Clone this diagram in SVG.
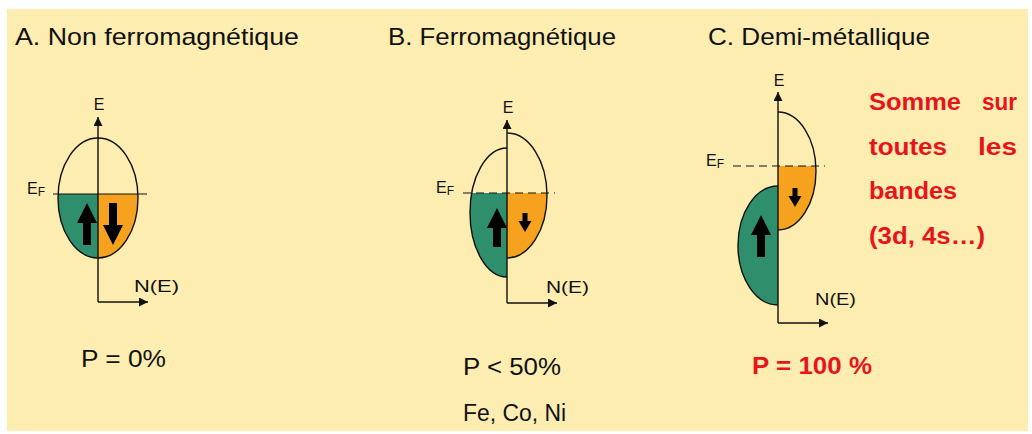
<svg xmlns="http://www.w3.org/2000/svg" width="1032" height="434" viewBox="0 0 1032 434">
<defs>
<style>
.t{font-family:"Liberation Sans",Arial,sans-serif;fill:#111}
.title{font-size:24px}
.ax{stroke:#111;stroke-width:1.4;fill:none}
.ol{stroke:#111;stroke-width:1.4;fill:none}
.ef{stroke:#111;stroke-width:1.2}
.dash{stroke-dasharray:8 5}
.up{fill:#2F8F6C}
.dn{fill:#F7A21E}
.red{font-family:"Liberation Sans",Arial,sans-serif;font-weight:bold;fill:#E8141C;font-size:23px}
.lab{font-size:16px}
.sub{font-size:12px}
.arr{fill:#000}
</style>
<marker id="ah" viewBox="0 0 10 10" refX="10" refY="5" markerWidth="9" markerHeight="9" markerUnits="userSpaceOnUse" orient="auto">
<path d="M0,0 L10,5 L0,10 z" fill="#111"/>
</marker>
</defs>
<rect x="0" y="0" width="1032" height="434" fill="#fff"/>
<rect x="7" y="9" width="1021" height="422" fill="#FDEDB1"/>

<g id="titles">
<text class="t title" x="15" y="45" textLength="284" lengthAdjust="spacingAndGlyphs">A. Non ferromagnétique</text>
<text class="t title" x="388" y="45" textLength="228" lengthAdjust="spacingAndGlyphs">B. Ferromagnétique</text>
<text class="t title" x="708" y="45" textLength="222" lengthAdjust="spacingAndGlyphs">C. Demi-métallique</text>
</g>

<g id="diagramA">
<path class="up" d="M98,194 L58.1,194 A40,60 0 0 0 98,258 Z"/>
<path class="dn" d="M98,194 L137.9,194 A40,60 0 0 1 98,258 Z"/>
<ellipse class="ol" cx="98" cy="198" rx="40" ry="60"/>
<line class="ef" x1="53" y1="194" x2="147" y2="194"/>
<polygon class="arr" points="87,203 97,223 91,223 91,245 83,245 83,223 77,223"/>
<polygon class="arr" points="113,245 123,225 117,225 117,203 109,203 109,225 103,225"/>
<text class="t lab" x="27" y="194">E<tspan class="sub" dy="2">F</tspan></text>
<text class="t lab" x="99" y="110" text-anchor="middle">E</text>
<text class="t lab" x="134" y="292" textLength="45" lengthAdjust="spacingAndGlyphs">N(E)</text>
<text class="t" x="81" y="367" font-size="24" textLength="85" lengthAdjust="spacingAndGlyphs">P = 0%</text>
</g>

<g id="diagramB">
<path class="up" d="M507,193 L471.7,193 A37,64.5 0 0 0 507,277 Z"/>
<path class="dn" d="M507,193 L547,193 A40,62.5 0 0 1 507,258 Z"/>
<path class="ol" d="M507,148 A37,64.5 0 0 0 507,277"/>
<path class="ol" d="M507,133 A40,62.5 0 0 1 507,258"/>
<line class="ef dash" x1="463" y1="193" x2="555" y2="193"/>
<polygon class="arr" points="497,208 507,228 501,228 501,247 493,247 493,228 487,228"/>
<polygon class="arr" points="525,232 531.5,221 527.5,221 527.5,213 522.5,213 522.5,221 518.5,221"/>
<text class="t lab" x="436" y="193">E<tspan class="sub" dy="2">F</tspan></text>
<text class="t lab" x="508" y="113" text-anchor="middle">E</text>
<text class="t lab" x="546" y="293" textLength="43" lengthAdjust="spacingAndGlyphs">N(E)</text>
<text class="t" x="463" y="375" font-size="24" textLength="98" lengthAdjust="spacingAndGlyphs">P &lt; 50%</text>
<text class="t" x="463" y="421" font-size="23" textLength="103" lengthAdjust="spacingAndGlyphs">Fe, Co, Ni</text>
</g>

<g id="diagramC">
<path class="dn" d="M778,166 L815.9,166 A38,59 0 0 1 778,230 Z"/>
<path class="up" d="M778,186 A40,59.5 0 0 0 778,305 Z"/>
<path class="ol" d="M778,112 A38,59 0 0 1 778,230"/>
<path class="ol" d="M778,186 A40,59.5 0 0 0 778,305"/>
<line class="ef dash" x1="733" y1="166" x2="825" y2="166"/>
<polygon class="arr" points="761,215 771,235 765,235 765,257 757,257 757,235 751,235"/>
<polygon class="arr" points="795,207 801.5,196 797.5,196 797.5,188 792.5,188 792.5,196 788.5,196"/>
<text class="t lab" x="706" y="166">E<tspan class="sub" dy="2">F</tspan></text>
<text class="t lab" x="779" y="86" text-anchor="middle">E</text>
<text class="t lab" x="815" y="305" textLength="41" lengthAdjust="spacingAndGlyphs">N(E)</text>
<text class="red" x="752" y="374" textLength="120" lengthAdjust="spacingAndGlyphs">P = 100 %</text>
</g>

<g id="connectors">
<line class="ax" x1="98" y1="302" x2="98" y2="117" marker-end="url(#ah)"/>
<line class="ax" x1="98" y1="302" x2="148" y2="302" marker-end="url(#ah)"/>
<line class="ax" x1="507" y1="303" x2="507" y2="120" marker-end="url(#ah)"/>
<line class="ax" x1="507" y1="303" x2="557" y2="303" marker-end="url(#ah)"/>
<line class="ax" x1="778" y1="323" x2="778" y2="92" marker-end="url(#ah)"/>
<line class="ax" x1="778" y1="323" x2="828" y2="323" marker-end="url(#ah)"/>
</g>

<g id="note">
<text class="red" x="869" y="110" textLength="92" lengthAdjust="spacingAndGlyphs">Somme</text>
<text class="red" x="982" y="110" textLength="35" lengthAdjust="spacingAndGlyphs">sur</text>
<text class="red" x="869" y="155" textLength="78" lengthAdjust="spacingAndGlyphs">toutes</text>
<text class="red" x="978" y="155" textLength="39" lengthAdjust="spacingAndGlyphs">les</text>
<text class="red" x="869" y="199" textLength="88" lengthAdjust="spacingAndGlyphs">bandes</text>
<text class="red" x="869" y="244" textLength="116" lengthAdjust="spacingAndGlyphs">(3d, 4s…)</text>
</g>
</svg>
